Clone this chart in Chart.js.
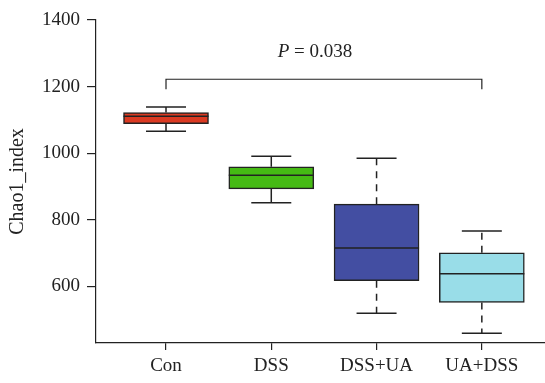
<!DOCTYPE html>
<html lang="en">
<head>
  <meta charset="UTF-8">
  <title>Chao1 index</title>
  <script src="https://cdn.jsdelivr.net/npm/chart.js"></script>
  <style>
    body { margin: 0; background: #fff; }
    .box { width: 545px; height: 383px; }
  </style>
</head>
<body>
  <div class="box"><canvas id="boxChart"></canvas></div>

  <script>
    const categories = ['Con', 'DSS', 'DSS+UA', 'UA+DSS'];
    const whiskerLow = [1066, 851, 519, 459];
    const q1 = [1089, 893, 617, 552];
    const median = [1111, 934, 715, 638];
    const q3 = [1122, 959, 847, 701];
    const whiskerHigh = [1139, 991, 985, 766];
    const yTicks = [600, 800, 1000, 1200, 1400];

    // significance bracket between first and last group
    const bracketFrom = 0, bracketTo = 3;
    const bracketTop = 1222, bracketFoot = 1192;
    const pLetter = 'P', pRest = ' = 0.038';

    const boxColors = ['#db3a22', '#45ba14', '#434ea2', '#99dde8'];
    const dashed = [false, false, true, true];
    const ink = '#222';
    const serif = "'Liberation Serif', 'DejaVu Serif', serif";

    const boxExtras = {
      id: 'boxExtras',
      afterDatasetsDraw(chart) {
        const ctx = chart.ctx;
        const xs = chart.scales.x, ys = chart.scales.y;
        const bars = chart.getDatasetMeta(0).data;
        ctx.save();
        ctx.strokeStyle = ink;
        ctx.lineWidth = 1.5;
        categories.forEach((c, i) => {
          const x = xs.getPixelForValue(i + 1);
          const half = bars[i].width / 2;
          const cap = 20;
          // whiskers
          ctx.setLineDash(dashed[i] ? [7, 6] : []);
          ctx.beginPath();
          ctx.moveTo(x, ys.getPixelForValue(q3[i]));
          ctx.lineTo(x, ys.getPixelForValue(whiskerHigh[i]));
          ctx.moveTo(x, ys.getPixelForValue(q1[i]));
          ctx.lineTo(x, ys.getPixelForValue(whiskerLow[i]));
          ctx.stroke();
          ctx.setLineDash([]);
          // caps
          ctx.beginPath();
          const yh = ys.getPixelForValue(whiskerHigh[i]);
          const yl = ys.getPixelForValue(whiskerLow[i]);
          ctx.moveTo(x - cap, yh); ctx.lineTo(x + cap, yh);
          ctx.moveTo(x - cap, yl); ctx.lineTo(x + cap, yl);
          // median
          const ym = ys.getPixelForValue(median[i]);
          ctx.moveTo(x - half, ym); ctx.lineTo(x + half, ym);
          ctx.stroke();
        });

        // bracket
        const x1 = xs.getPixelForValue(bracketFrom + 1);
        const x2 = xs.getPixelForValue(bracketTo + 1);
        const yt = ys.getPixelForValue(bracketTop);
        const yf = ys.getPixelForValue(bracketFoot);
        ctx.lineWidth = 1.2;
        ctx.beginPath();
        ctx.moveTo(x1, yf); ctx.lineTo(x1, yt); ctx.lineTo(x2, yt); ctx.lineTo(x2, yf);
        ctx.stroke();

        // p-value text
        ctx.fillStyle = ink;
        ctx.textBaseline = 'alphabetic';
        ctx.font = 'italic 19px ' + serif;
        const w1 = ctx.measureText(pLetter).width;
        ctx.font = '19px ' + serif;
        const w2 = ctx.measureText(pRest).width;
        let tx = (x1 + x2) / 2 - 9 - (w1 + w2) / 2;
        ctx.font = 'italic 19px ' + serif;
        ctx.fillText(pLetter, tx, yt - 22);
        ctx.font = '19px ' + serif;
        ctx.fillText(pRest, tx + w1, yt - 22);
        ctx.restore();
      }
    };

    const chart = new Chart(document.getElementById('boxChart'), {
      type: 'bar',
      data: {
        datasets: [{
          data: categories.map((c, i) => ({ x: i + 1, y: [q1[i], q3[i]] })),
          backgroundColor: boxColors,
          borderColor: ink,
          borderWidth: 1.5,
          borderSkipped: false,
          barThickness: 85
        }]
      },
      options: {
        responsive: true,
        maintainAspectRatio: false,
        animation: false,
        layout: { padding: { top: 20, right: 0, left: 0, bottom: 0 } },
        plugins: { legend: { display: false }, tooltip: { enabled: false } },
        scales: {
          x: {
            type: 'linear',
            offset: false,
            min: 0.335,
            max: 4.6,
            afterBuildTicks: s => { s.ticks = categories.map((c, i) => ({ value: i + 1 })); },
            afterFit: s => { s.height = 40; },
            grid: { offset: false, drawOnChartArea: false, tickLength: 7, color: ink, lineWidth: 1.2 },
            border: { color: ink, width: 1.2 },
            ticks: {
              color: ink,
              padding: 5,
              maxRotation: 0,
              font: { family: serif, size: 19 },
              callback: v => categories[v - 1]
            }
          },
          y: {
            min: 430,
            max: 1400,
            afterBuildTicks: s => { s.ticks = yTicks.map(v => ({ value: v })); },
            afterFit: s => { s.width = 96; },
            grid: { drawOnChartArea: false, tickLength: 9, color: ink, lineWidth: 1.2 },
            border: { color: ink, width: 1.2 },
            ticks: { color: ink, padding: 7, font: { family: serif, size: 19 }, callback: v => String(v) },
            title: {
              display: true,
              text: 'Chao1_index',
              color: ink,
              padding: { top: 6, bottom: 0 },
              font: { family: serif, size: 20 }
            }
          }
        }
      },
      plugins: [boxExtras]
    });
  </script>
</body>
</html>
